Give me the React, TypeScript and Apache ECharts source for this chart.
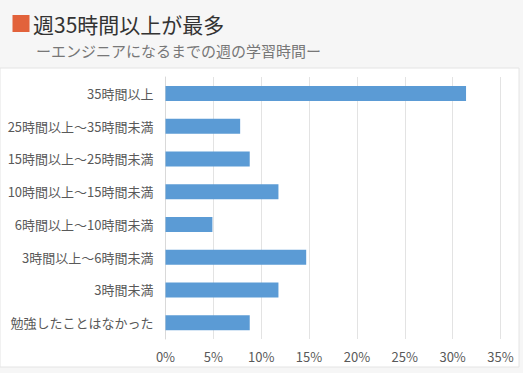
import React, { useEffect, useRef } from "react";
import * as echarts from "echarts";

const titleText = "週35時間以上が最多";
const subtitleText = "ーエンジニアになるまでの週の学習時間ー";
const categories = [
  "35時間以上",
  "25時間以上～35時間未満",
  "15時間以上～25時間未満",
  "10時間以上～15時間未満",
  "6時間以上～10時間未満",
  "3時間以上～6時間未満",
  "3時間未満",
  "勉強したことはなかった",
];
const values = [31.4, 7.8, 8.8, 11.8, 4.9, 14.7, 11.8, 8.8];
const xMin = 0;
const xMax = 35;
const xInterval = 5;

const FONT = '"Noto Sans CJK JP", "Noto Sans", sans-serif';

export default function App() {
  const ref = useRef<HTMLDivElement>(null);
  useEffect(() => {
    if (!ref.current) return;
    const chart = echarts.init(ref.current, undefined, { renderer: "svg" });
    chart.setOption({
      animation: false,
      backgroundColor: "#f6f6f6",
      textStyle: { fontFamily: FONT },
      graphic: [
        {
          type: "rect",
          shape: { x: 0, y: 68, width: 519, height: 299 },
          style: { fill: "#ffffff", stroke: "#e4e4e4", lineWidth: 1 },
          z: -10,
        },
        {
          type: "rect",
          shape: { x: 12.5, y: 15, width: 17, height: 17 },
          style: { fill: "#e2623b" },
        },
        {
          type: "text",
          x: 33,
          y: 23.5,
          style: {
            text: titleText,
            fontSize: 21,
            fontFamily: FONT,
            fill: "#333333",
            verticalAlign: "middle",
          },
        },
        {
          type: "text",
          x: 36,
          y: 50,
          style: {
            text: subtitleText,
            fontSize: 15,
            fontFamily: FONT,
            fill: "#777777",
            verticalAlign: "middle",
          },
        },
      ],
      grid: { left: 165.5, right: 22.5, top: 77, bottom: 34, containLabel: false },
      xAxis: {
        type: "value",
        min: xMin,
        max: xMax,
        interval: xInterval,
        axisLine: { show: false },
        axisTick: { show: false },
        splitLine: { show: true, lineStyle: { color: "#e3e3e3", width: 1 } },
        axisLabel: {
          formatter: "{value}%",
          color: "#595959",
          fontSize: 13,
          margin: 11,
          fontFamily: FONT,
        },
      },
      yAxis: {
        type: "category",
        data: categories,
        inverse: true,
        axisLine: { show: true, lineStyle: { color: "#d9d9d9" } },
        axisTick: { show: false },
        axisLabel: {
          color: "#595959",
          fontSize: 13,
          margin: 12,
          fontFamily: FONT,
        },
      },
      series: [
        {
          type: "bar",
          data: values,
          barWidth: 15,
          itemStyle: { color: "#5b9bd5" },
        },
      ],
    });
    return () => chart.dispose();
  }, []);
  return (
    <div
      ref={ref}
      style={{ position: "absolute", left: 0, top: 0, width: 523, height: 373 }}
    />
  );
}
